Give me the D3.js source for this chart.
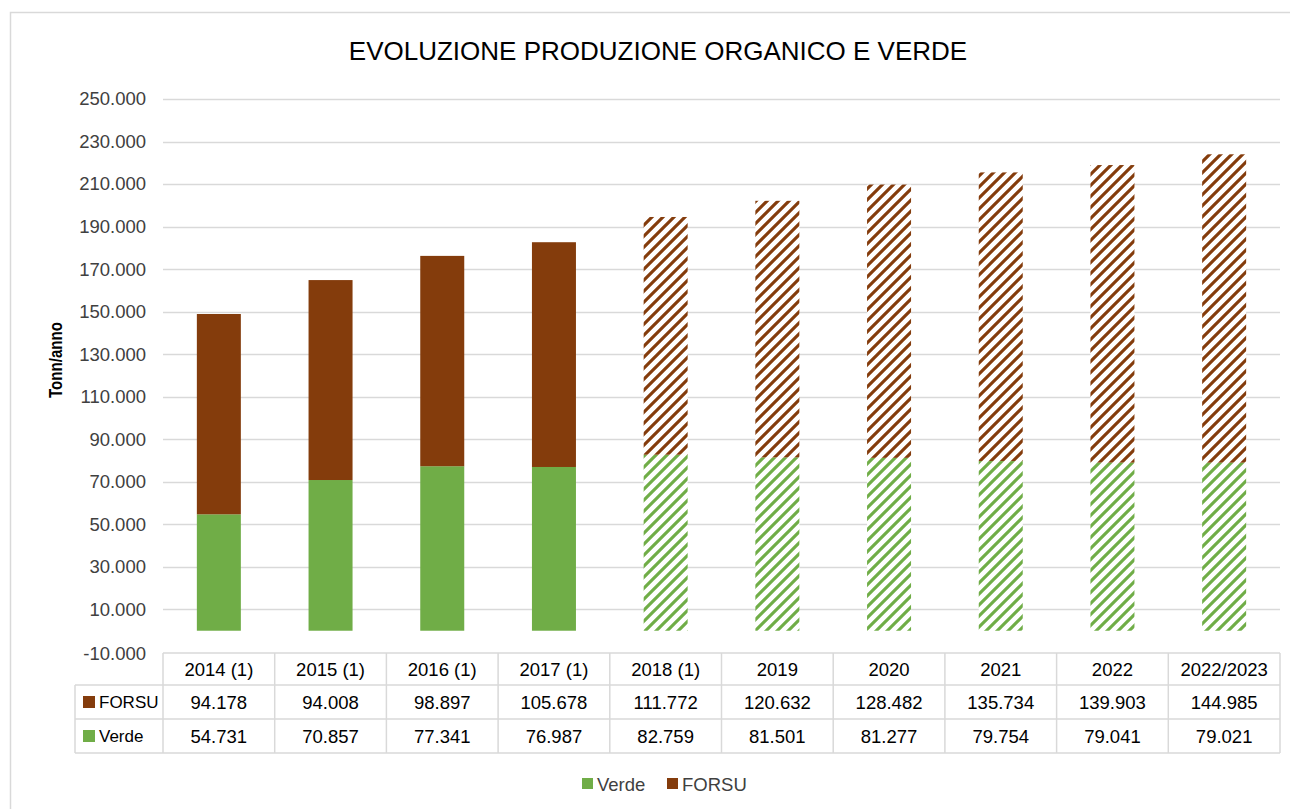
<!DOCTYPE html>
<html>
<head>
<meta charset="utf-8">
<script src="https://cdn.jsdelivr.net/npm/d3@7"></script>
<style>
html,body{margin:0;padding:0;background:#fff;}
svg{display:block;font-family:"Liberation Sans",Arial,sans-serif;}
</style>
</head>
<body>
<svg id="chart" width="1290" height="809"></svg>
<script>
const categories = ["2014 (1)","2015 (1)","2016 (1)","2017 (1)","2018 (1)","2019","2020","2021","2022","2022/2023"];
const forsu = [94178,94008,98897,105678,111772,120632,128482,135734,139903,144985];
const verde = [54731,70857,77341,76987,82759,81501,81277,79754,79041,79021];
const hatchedCategories = ["2018 (1)","2019","2020","2021","2022","2022/2023"];
const yTicks = [-10000,10000,30000,50000,70000,90000,110000,130000,150000,170000,190000,210000,230000,250000];
const seriesNames = ["Verde","FORSU"];
const title = "EVOLUZIONE PRODUZIONE ORGANICO E VERDE";
const yTitle = "Tonn/anno";

const colors = {Verde:"#70AD47", FORSU:"#843C0C"};
const grid = "#D9D9D9";
const textCol = "#404040";

const locale = d3.formatLocale({decimal:",", thousands:".", grouping:[3], currency:["",""], minus:"-"});
const fmt = locale.format(",.0f");

const svg = d3.select("#chart");
const L = 163, R = 1280, T = 99, B = 652;

// frame
svg.append("rect").attr("x",10.5).attr("y",12.5).attr("width",1400).attr("height",900)
  .attr("fill","#fff").attr("stroke",grid).attr("stroke-width",1.5);

// patterns
const defs = svg.append("defs");
const P = 11;
seriesNames.forEach(s=>{
  const p = defs.append("pattern").attr("id","hatch-"+s).attr("patternUnits","userSpaceOnUse")
    .attr("width",P).attr("height",P);
  p.append("rect").attr("width",P).attr("height",P).attr("fill","#fff");
  p.append("path").attr("d",`M-3,3 L3,-3 M0,${P} L${P},0 M${P-3},${P+3} L${P+3},${P-3}`)
    .attr("stroke",colors[s]).attr("stroke-width",3.1);
});

const x = d3.scaleBand().domain(categories).range([L,R]).paddingInner(0).paddingOuter(0);
const y = d3.scaleLinear().domain([-10000,250000]).range([B,T]);

// gridlines
svg.append("g").selectAll("line").data(yTicks.filter(t=>t>-10000)).join("line")
  .attr("x1",L).attr("x2",R).attr("y1",d=>Math.round(y(d))+0.5).attr("y2",d=>Math.round(y(d))+0.5)
  .attr("stroke",grid).attr("stroke-width",1.5);

// y axis
const yAxis = d3.axisLeft(y).tickValues(yTicks).tickFormat(fmt).tickSize(0).tickPadding(0);
const gy = svg.append("g").attr("transform",`translate(${L-17},0)`).call(yAxis);
gy.select(".domain").remove();
gy.selectAll("text").attr("fill",textCol).style("font-size","18.5px")
  .style("font-family","'Liberation Sans',Arial,sans-serif");
gy.selectAll(".tick").filter(d=>d===-10000).select("text").attr("dy","0.38em");

// bars
const stackData = categories.map((c,i)=>({cat:c, Verde:verde[i], FORSU:forsu[i]}));
const stacked = d3.stack().keys(seriesNames)(stackData);
const bw = 44;
const gBars = svg.append("g");
stacked.forEach(layer=>{
  gBars.append("g").selectAll("rect").data(layer).join("rect")
    .attr("x",d=>x(d.data.cat)+x.bandwidth()/2-bw/2)
    .attr("width",bw)
    .attr("y",d=>y(d[1]))
    .attr("height",d=>y(d[0])-y(d[1]))
    .attr("fill",d=>hatchedCategories.includes(d.data.cat)?`url(#hatch-${layer.key})`:colors[layer.key]);
});

// title
svg.append("text").attr("x",658).attr("y",60).attr("text-anchor","middle")
  .attr("fill","#000").style("font-size","26px").text(title);

// y title
svg.append("text").attr("transform","translate(62,360) rotate(-90)").attr("text-anchor","middle")
  .attr("fill","#000").style("font-size","19px").style("font-weight","600")
  .attr("textLength",76).attr("lengthAdjust","spacingAndGlyphs").text(yTitle);

// data table
const rowY = [653,685,719,753];
const gT = svg.append("g");
function tline(x1,y1,x2,y2){gT.append("line").attr("x1",x1).attr("y1",y1).attr("x2",x2).attr("y2",y2)
  .attr("stroke",grid).attr("stroke-width",1.5);}
tline(L,rowY[0],R,rowY[0]);
tline(75,rowY[1],R,rowY[1]);
tline(75,rowY[2],R,rowY[2]);
tline(75,rowY[3],R,rowY[3]);
tline(75,rowY[1],75,rowY[3]);
categories.forEach((c,i)=>{ tline(x(c),rowY[0],x(c),rowY[3]); });
tline(R,rowY[0],R,rowY[3]);

const tableRows = [
  {name:"FORSU", vals:forsu, yc:(rowY[1]+rowY[2])/2},
  {name:"Verde", vals:verde, yc:(rowY[2]+rowY[3])/2}
];
gT.selectAll("text.hdr").data(categories).join("text").attr("class","hdr")
  .attr("x",d=>x(d)+x.bandwidth()/2).attr("y",(rowY[0]+rowY[1])/2).attr("dy","0.36em")
  .attr("text-anchor","middle").attr("fill","#000").style("font-size","18.5px").text(d=>d);
tableRows.forEach(r=>{
  gT.append("g").selectAll("text").data(r.vals).join("text")
    .attr("x",(d,i)=>x(categories[i])+x.bandwidth()/2).attr("y",r.yc).attr("dy","0.36em")
    .attr("text-anchor","middle").attr("fill","#000").style("font-size","18.5px").text(d=>fmt(d));
  gT.append("rect").attr("x",83).attr("y",r.yc-6).attr("width",12).attr("height",12).attr("fill",colors[r.name]);
  gT.append("text").attr("x",99).attr("y",r.yc).attr("dy","0.36em").attr("fill","#000")
    .style("font-size","17px").text(r.name);
});

// bottom legend
const legX = [582,667];
seriesNames.forEach((s,i)=>{
  svg.append("rect").attr("x",legX[i]).attr("y",778).attr("width",11).attr("height",11).attr("fill",colors[s]);
  svg.append("text").attr("x",legX[i]+15).attr("y",784).attr("dy","0.36em").attr("fill",textCol)
    .style("font-size","18.5px").text(s);
});
</script>
</body>
</html>
